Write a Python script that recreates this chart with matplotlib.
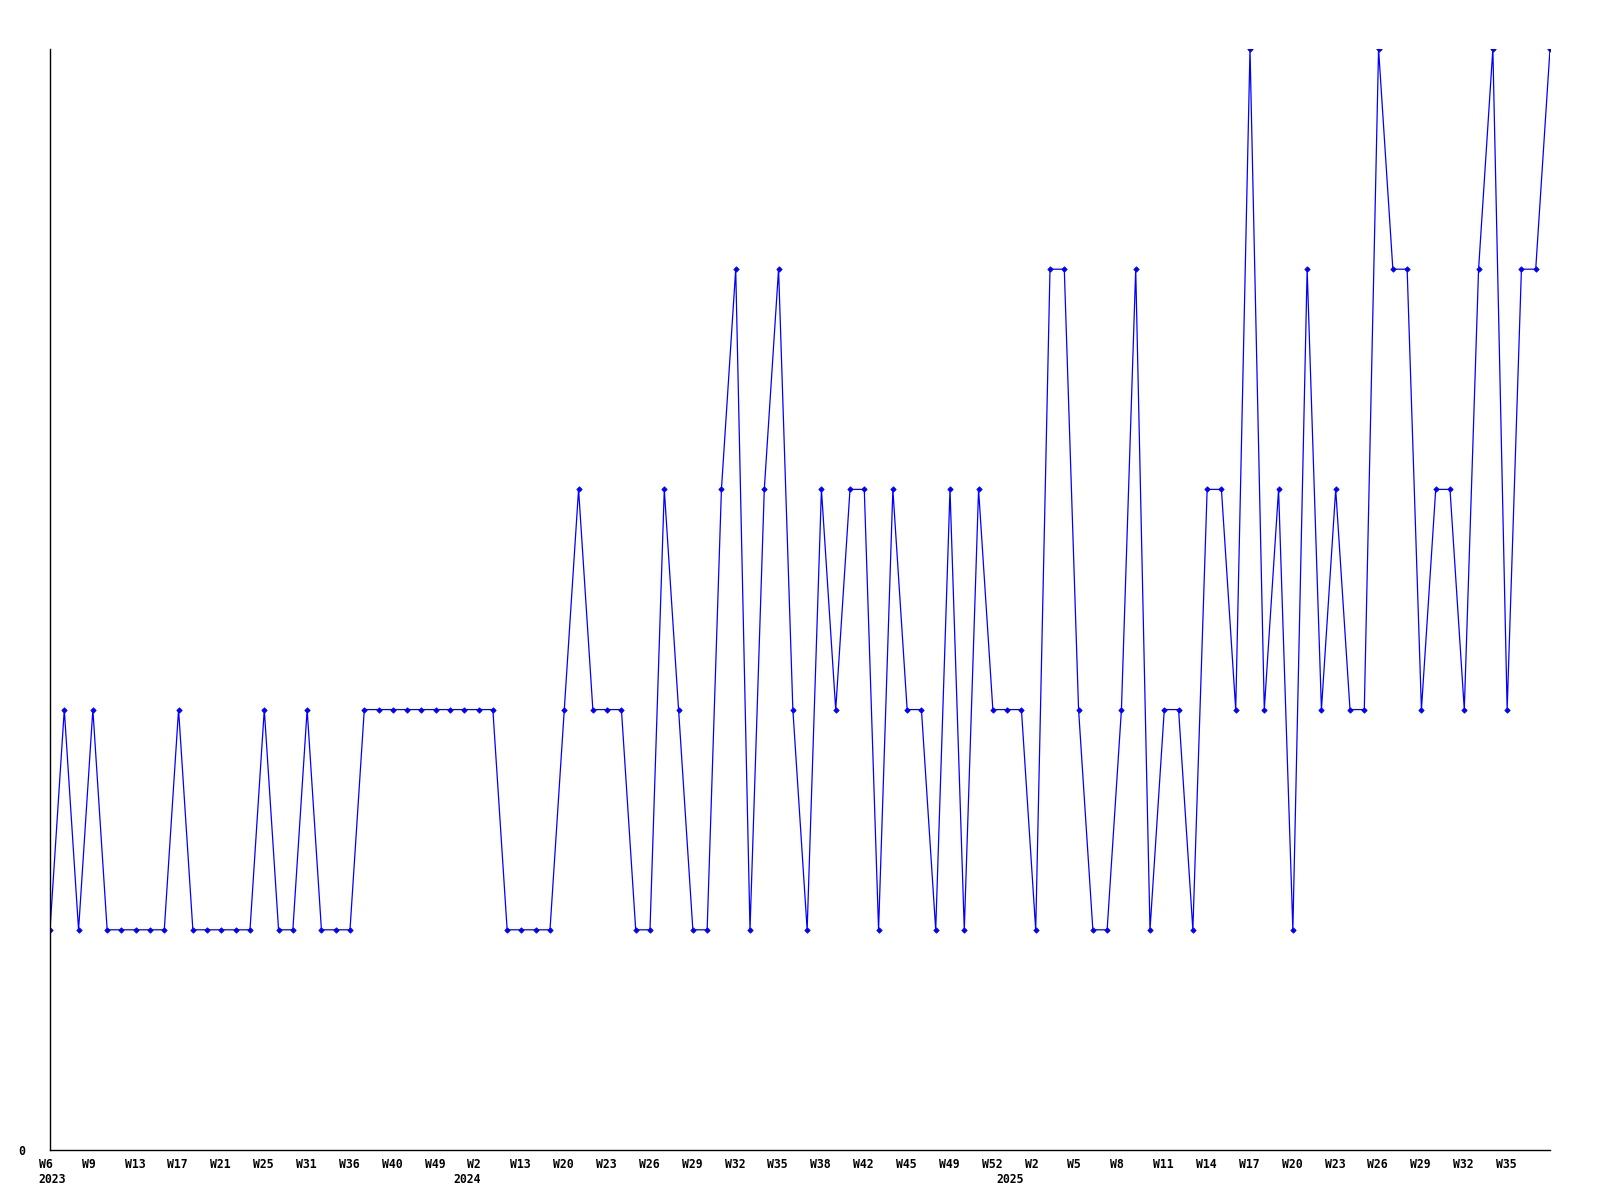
import matplotlib
matplotlib.use("Agg")
import matplotlib.pyplot as plt
from matplotlib.transforms import ScaledTranslation

# Weekly counts, one entry per reported week (in order)
counts = [1, 2, 1, 2, 1, 1, 1, 1, 1, 2,
          1, 1, 1, 1, 1, 2, 1, 1, 2, 1,
          1, 1, 2, 2, 2, 2, 2, 2, 2, 2,
          2, 2, 1, 1, 1, 1, 2, 3, 2, 2,
          2, 1, 1, 3, 2, 1, 1, 3, 4, 1,
          3, 4, 2, 1, 3, 2, 3, 3, 1, 3,
          2, 2, 1, 3, 1, 3, 2, 2, 2, 1,
          4, 4, 2, 1, 1, 2, 4, 1, 2, 2,
          1, 3, 3, 2, 5, 2, 3, 1, 4, 2,
          3, 2, 2, 5, 4, 4, 2, 3, 3, 2,
          4, 5, 2, 4, 4, 5]

# Labels shown every third week
week_labels = ["W6", "W9", "W13", "W17", "W21", "W25", "W31", "W36", "W40",
               "W49", "W2", "W13", "W20", "W23", "W26", "W29", "W32", "W35",
               "W38", "W42", "W45", "W49", "W52", "W2", "W5", "W8", "W11",
               "W14", "W17", "W20", "W23", "W26", "W29", "W32", "W35"]
years = ["2023", "2024", "2025"]
year_start_index = [0, 29, 67]

x = list(range(len(counts)))
tick_pos = x[::3][:len(week_labels)]

fig = plt.figure(figsize=(16, 12), dpi=100)
ax = fig.add_axes([0.03125, 0.04167, 0.9375, 0.9175])

ax.plot(x, counts, color="#0000ff", linewidth=0.9, marker="D",
        markersize=2.8, markeredgewidth=0.5)

ax.set_xlim(0, len(counts) - 1)
ax.set_ylim(0, max(counts))

for side in ["top", "right"]:
    ax.spines[side].set_visible(False)
for side in ["left", "bottom"]:
    ax.spines[side].set_linewidth(1.0)
    ax.spines[side].set_color("black")

font = dict(family="DejaVu Sans Mono", weight="bold", size=8.3)

ax.set_yticks([0])
ax.set_yticklabels(["0"], **font)
ax.tick_params(axis="y", length=0, pad=18)

ax.set_xticks(tick_pos)
ax.set_xticklabels(week_labels, ha="left", **font)
ax.tick_params(axis="x", length=0, pad=6)
shift = ScaledTranslation(-0.112, 0, fig.dpi_scale_trans)
for lab in ax.get_xticklabels():
    lab.set_transform(lab.get_transform() + shift)

# year markers under the week labels
for label, pos in zip(years, year_start_index):
    ax.annotate(label, xy=(pos, 0), xycoords=("data", "axes fraction"),
                xytext=(-8.1, -16.5), textcoords="offset points",
                ha="left", va="top", **font)

plt.savefig("out.png", dpi=100)
